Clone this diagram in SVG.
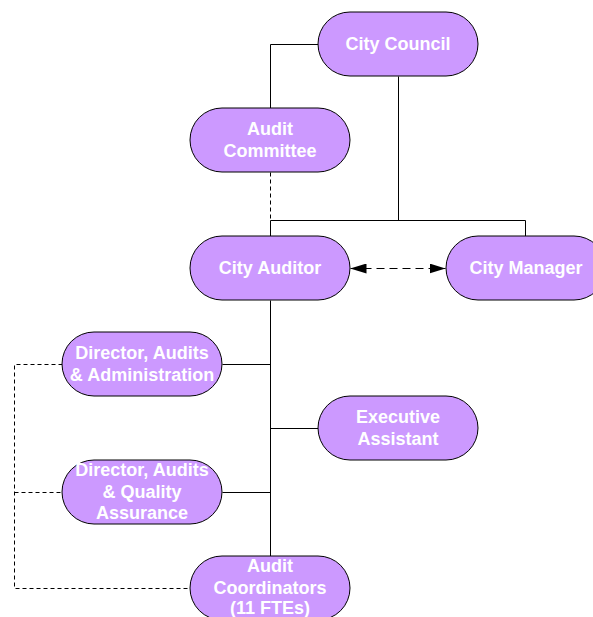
<svg xmlns="http://www.w3.org/2000/svg" width="593" height="617" viewBox="0 0 593 617">
<style>
.box{fill:#CC99FF;stroke:#000;stroke-width:1}
.t{fill:#fff;font-family:"Liberation Sans",Arial,sans-serif;font-weight:bold;font-size:18px;text-anchor:middle}
.c{fill:none;stroke:#000;stroke-width:1}
.d{fill:none;stroke:#000;stroke-width:1;stroke-dasharray:4 3}
.a{fill:none;stroke:#000;stroke-width:1;stroke-dasharray:8 5}
</style>
<defs>
<marker id="ah" viewBox="0 0 16 10" refX="16" refY="5" markerWidth="16" markerHeight="10" markerUnits="userSpaceOnUse" orient="auto-start-reverse">
<path d="M0,0 L16,5 L0,10 Z" fill="#000"/>
</marker>
</defs>
<g id="connectors" transform="translate(0.5,0.5)">
<polyline class="c" points="318,44 270,44 270,108"/>
<polyline class="c" points="398,76 398,220"/>
<polyline class="c" points="270,220 525,220 525,236"/>
<line class="d" x1="270" y1="172" x2="270" y2="220"/>
<line class="c" x1="270" y1="220" x2="270" y2="236"/>
<line class="a" x1="350" y1="268" x2="445" y2="268" marker-start="url(#ah)" marker-end="url(#ah)"/>
<line class="c" x1="270" y1="300" x2="270" y2="556"/>
<line class="c" x1="222" y1="364" x2="270" y2="364"/>
<line class="c" x1="270" y1="428" x2="318" y2="428"/>
<line class="c" x1="222" y1="492" x2="270" y2="492"/>
<polyline class="d" points="62,364 14,364 14,588 190,588"/>
<line class="d" x1="14" y1="492" x2="62" y2="492"/>
</g>
<g id="city-council"><rect class="box" x="318" y="12" width="160" height="64" rx="32"/><text class="t" x="398" y="50">City Council</text></g>
<g id="audit-committee"><rect class="box" x="190" y="108" width="160" height="64" rx="32"/><text class="t" x="270" y="135">Audit</text><text class="t" x="270" y="157">Committee</text></g>
<g id="city-auditor"><rect class="box" x="190" y="236" width="160" height="64" rx="32"/><text class="t" x="270" y="274">City Auditor</text></g>
<g id="city-manager"><rect class="box" x="446" y="236" width="160" height="64" rx="32"/><text class="t" x="526" y="274">City Manager</text></g>
<g id="director-admin"><rect class="box" x="62" y="332" width="160" height="64" rx="32"/><text class="t" x="142" y="359">Director, Audits</text><text class="t" x="142" y="381">&amp; Administration</text></g>
<g id="executive-assistant"><rect class="box" x="318" y="396" width="160" height="64" rx="32"/><text class="t" x="398" y="423">Executive</text><text class="t" x="398" y="445">Assistant</text></g>
<g id="director-qa"><rect class="box" x="62" y="460" width="160" height="64" rx="32"/><text class="t" x="142" y="476">Director, Audits</text><text class="t" x="142" y="498">&amp; Quality</text><text class="t" x="142" y="519">Assurance</text></g>
<g id="audit-coordinators"><rect class="box" x="190" y="556" width="160" height="64" rx="32"/><text class="t" x="270" y="572">Audit</text><text class="t" x="270" y="594">Coordinators</text><text class="t" x="270" y="614">(11 FTEs)</text></g>
</svg>
